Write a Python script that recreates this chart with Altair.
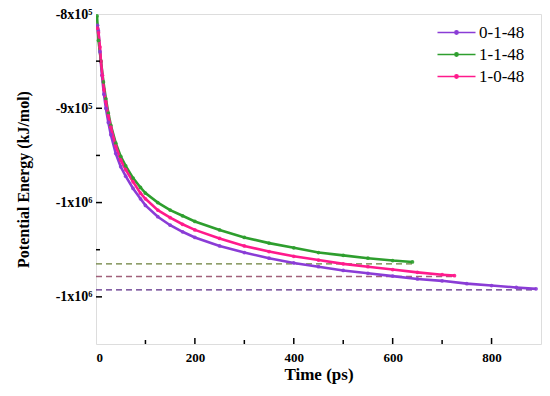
import altair as alt
import pandas as pd

# ---- data ----
series_names = ["0-1-48", "1-1-48", "1-0-48"]

t_a = [3, 5, 8, 12, 16, 20, 25, 30, 40, 50, 60, 75, 90, 100, 125, 150, 175, 200, 250,
       300, 350, 400, 450, 500, 550, 600, 650, 700, 750, 800, 850, 890]
e_a = [-812e3, -818e3, -840e3, -865e3, -885e3, -900e3, -915e3, -928e3, -948e3, -962e3,
       -972e3, -985e3, -996e3, -1003e3, -1015e3, -1024e3, -1031e3, -1037e3, -1046e3,
       -1053e3, -1059e3, -1064e3, -1068e3, -1072e3, -1075e3, -1078e3, -1081e3,
       -1083e3, -1086e3, -1088e3, -1090e3, -1091.5e3]

t_b = [2, 5, 10, 15, 20, 25, 30, 40, 50, 60, 75, 90, 100, 125, 150, 175, 200, 250, 300,
       350, 400, 450, 500, 550, 600, 640]
e_b = [-802e3, -828e3, -850e3, -872e3, -890e3, -905e3, -918e3, -937e3, -951e3, -961e3,
       -974e3, -984e3, -990e3, -1000e3, -1008e3, -1014e3, -1020e3, -1029e3, -1037e3,
       -1043e3, -1048e3, -1053e3, -1056e3, -1059e3, -1061.5e3, -1063e3]

t_c = [3, 5, 8, 10, 13, 16, 20, 25, 30, 40, 50, 60, 75, 90, 100, 125, 150, 175, 200,
       250, 300, 350, 400, 450, 500, 550, 600, 650, 700, 725]
e_c = [-815e3, -820e3, -835e3, -850e3, -865e3, -880e3, -893e3, -908e3, -920e3, -940e3,
       -955e3, -965e3, -978e3, -990e3, -996e3, -1008e3, -1016e3, -1023e3, -1029e3,
       -1038e3, -1046e3, -1052e3, -1057e3, -1061e3, -1065e3, -1068e3, -1071e3,
       -1074e3, -1076.5e3, -1077.5e3]

# dashed reference levels
ref_levels = [-1092.6e3, -1065e3, -1078.4e3]
ref_ends = [890, 640, 725]

series_colors = ["#8a3cd6", "#2e9e2e", "#ff1a8c"]
ref_colors = ["#5b2a86", "#6b7f3a", "#a0607a"]

y_major = [-800000, -900000, -1000000, -1100000]
y_minor = [-850000, -950000, -1050000]
x_major = [200, 400, 600, 800]
x_minor = [100, 300, 500, 700]

# ---- tables ----
rows = []
for name, ts, es in zip(series_names, [t_a, t_b, t_c], [e_a, e_b, e_c]):
    for t, e in zip(ts, es):
        rows.append({"series": name, "time": t, "energy": e})
df = pd.DataFrame(rows)

ref_df = pd.DataFrame({"series": series_names, "level": ref_levels,
                       "x0": [0] * 3, "x1": ref_ends})

W, H = 445, 330
FONT = "Liberation Serif"

xscale = alt.Scale(domain=[0, 900], nice=False, zero=False)
yscale = alt.Scale(domain=[-1150000, -800000], nice=False, zero=False)

color_scale = alt.Scale(domain=series_names, range=series_colors)

x_axis = alt.Axis(values=[0] + x_major, ticks=False, domain=False, grid=False,
                  labelFont=FONT, labelFontWeight="bold", labelFontSize=13,
                  labelColor="black", labelPadding=7,
                  title="Time (ps)", titleFont=FONT, titleFontWeight="bold",
                  titleFontSize=17, titleColor="black", titleY=30,
                  titleBaseline="middle")

label_expr = ("datum.value == -800000 ? '-8x10\u2075' : datum.value == -900000 ? "
              "'-9x10\u2075' : '-1x10\u2076'")
y_axis = alt.Axis(values=y_major, ticks=False, domain=False, grid=False,
                  labelExpr=label_expr, labelFont=FONT, labelFontWeight="bold",
                  labelFontSize=14, labelColor="black", labelPadding=4,
                  title="Potential Energy (kJ/mol)", titleFont=FONT,
                  titleFontWeight="bold", titleFontSize=16, titleColor="black",
                  titleX=-73, titleY=H / 2, titleBaseline="middle")

base = alt.Chart(df)

refs = alt.Chart(ref_df).mark_rule(strokeDash=[6, 4], strokeWidth=1.4).encode(
    x=alt.X("x0:Q", scale=xscale, axis=x_axis),
    x2="x1:Q",
    y=alt.Y("level:Q", scale=yscale, axis=y_axis),
    color=alt.Color("series:N", scale=alt.Scale(domain=series_names, range=ref_colors),
                    legend=None),
)

legend_symbol = ("M-2,0L2,0"
                 "M0.17,0A0.17,0.17,0,1,1,-0.17,0A0.17,0.17,0,1,1,0.17,0"
                 "M0.07,0A0.07,0.07,0,1,1,-0.07,0A0.07,0.07,0,1,1,0.07,0")

lines = base.mark_line(strokeWidth=2.6, clip=True).encode(
    x=alt.X("time:Q", scale=xscale, axis=x_axis),
    y=alt.Y("energy:Q", scale=yscale, axis=y_axis),
    color=alt.Color("series:N", scale=color_scale, sort=series_names,
                    legend=alt.Legend(
                        title=None, orient="none", legendX=346, legendY=4,
                        labelFont=FONT, labelFontSize=17, labelColor="black",
                        symbolType=legend_symbol,
                        symbolSize=361, symbolStrokeWidth=1.6,
                        rowPadding=3, labelOffset=12, padding=4)),
)

points = base.mark_circle(size=14, opacity=0.9, clip=True).encode(
    x=alt.X("time:Q", scale=xscale, axis=x_axis),
    y=alt.Y("energy:Q", scale=yscale, axis=y_axis),
    color=alt.Color("series:N", scale=color_scale, legend=None),
)

yticks_major = alt.Chart(pd.DataFrame({"v": y_major[1:]})).mark_rule(
    color="black", strokeWidth=1.5).encode(
    y=alt.Y("v:Q", scale=yscale, axis=y_axis), x=alt.value(0), x2=alt.value(6))
yticks_minor = alt.Chart(pd.DataFrame({"v": y_minor})).mark_rule(
    color="black", strokeWidth=1.5).encode(
    y=alt.Y("v:Q", scale=yscale, axis=y_axis), x=alt.value(0), x2=alt.value(4))
xticks_major = alt.Chart(pd.DataFrame({"v": x_major})).mark_rule(
    color="black", strokeWidth=1.5).encode(
    x=alt.X("v:Q", scale=xscale, axis=x_axis), y=alt.value(H), y2=alt.value(H - 6))
xticks_minor = alt.Chart(pd.DataFrame({"v": x_minor})).mark_rule(
    color="black", strokeWidth=1.5).encode(
    x=alt.X("v:Q", scale=xscale, axis=x_axis), y=alt.value(H), y2=alt.value(H - 4))

chart = alt.layer(
    refs, lines, points, yticks_major, yticks_minor, xticks_major, xticks_minor
).resolve_scale(color="independent").properties(
    width=W, height=H,
    autosize=alt.AutoSizeParams(type="none"),
    padding={"left": 88, "top": 6, "right": 1, "bottom": 40},
).configure_view(
    stroke="black", strokeWidth=1.6
).configure_axis(
    labelFont=FONT, labelFontWeight="bold", labelColor="black",
    titleFont=FONT, titleFontWeight="bold", titleColor="black"
).configure_legend(
    labelFont=FONT, labelColor="black"
).configure(background="white", font=FONT)

chart.save("out.html", embed_options={"renderer": "svg", "actions": False})
